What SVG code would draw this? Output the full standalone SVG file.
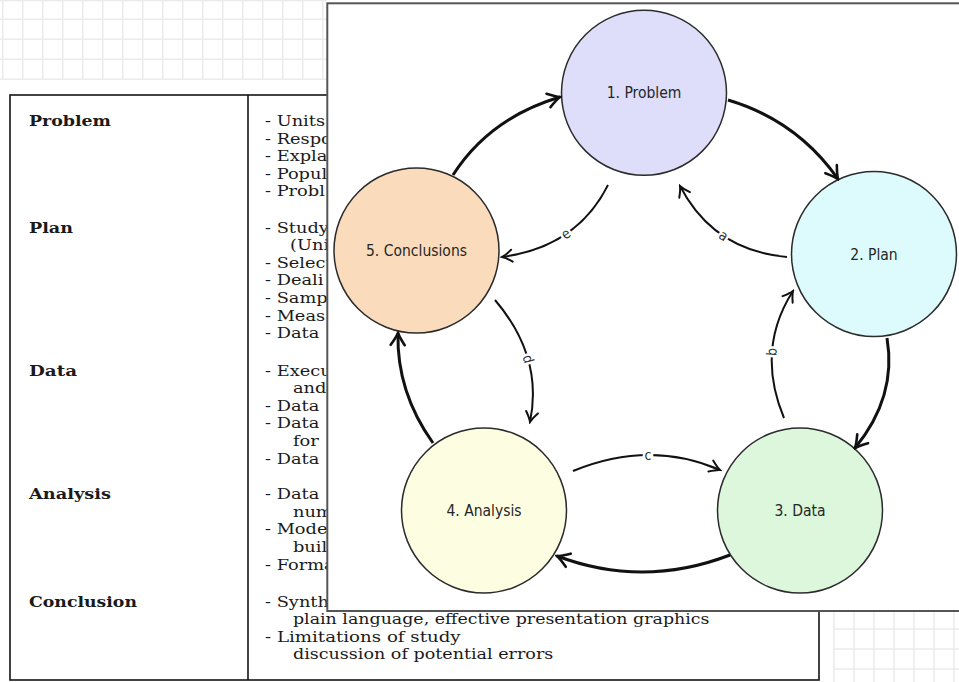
<svg xmlns="http://www.w3.org/2000/svg" width="959" height="682" viewBox="0 0 959 682">
  <style>
    .grid { stroke: #ebebeb; stroke-width: 1.5; fill: none; }
    .tbl { stroke: #151515; stroke-width: 1.6; fill: none; }
    .head { font-family: "DejaVu Serif", "Liberation Serif", serif; font-weight: bold; font-size: 14px; fill: #1a1a1a; }
    .body { font-family: "DejaVu Serif", "Liberation Serif", serif; font-size: 14px; fill: #1a1a1a; }
    .node circle { stroke: #2b2b2b; stroke-width: 1.5; }
    .node text { font-family: "DejaVu Sans Condensed", "DejaVu Sans", sans-serif; font-size: 15.5px; fill: #262626; text-anchor: middle; }
    .outer { stroke: #111; stroke-width: 3; fill: none; }
    .inner { stroke: #111; stroke-width: 2; fill: none; }
    .lbl { font-family: "DejaVu Sans Condensed", "DejaVu Sans", sans-serif; font-size: 14px; fill: #333; text-anchor: middle; stroke: #fff; stroke-width: 5; paint-order: stroke; }
  </style>
  <defs>
    <marker id="headBig" markerUnits="userSpaceOnUse" viewBox="-15 -10 17 20" markerWidth="17" markerHeight="20" refX="0" refY="0" orient="auto">
      <path d="M-12,-7 Q-4,-1.5 0,0 Q-4,1.5 -12,7" fill="none" stroke="#111" stroke-width="2.6" stroke-linecap="round"/>
    </marker>
    <marker id="headSmall" markerUnits="userSpaceOnUse" viewBox="-13 -9 15 18" markerWidth="15" markerHeight="18" refX="0" refY="0" orient="auto">
      <path d="M-10,-6 Q-3.5,-1.2 0,0 Q-3.5,1.2 -10,6" fill="none" stroke="#111" stroke-width="2" stroke-linecap="round"/>
    </marker>
  </defs>

  <rect width="959" height="682" fill="#fff"/>

  <!-- graph paper, top left -->
  <g class="grid">
    <path d="M0,0.5H327 M0,19.3H327 M0,39.3H327 M0,59.3H327 M0,79.3H327"/>
    <path d="M2.7,0V80 M22.7,0V80 M42.7,0V80 M62.7,0V80 M82.7,0V80 M102.7,0V80 M122.7,0V80 M142.7,0V80 M162.7,0V80 M182.7,0V80 M202.7,0V80 M222.7,0V80 M242.7,0V80 M262.7,0V80 M282.7,0V80 M302.7,0V80 M322.7,0V80"/>
  </g>
  <!-- graph paper, bottom right -->
  <g class="grid">
    <path d="M834,629H959 M834,649H959 M834,669H959"/>
    <path d="M834,612V682 M854,612V682 M874,612V682 M894,612V682 M914,612V682 M934,612V682 M954,612V682"/>
  </g>

  <!-- summary table -->
  <g id="table">
    <rect class="tbl" x="10" y="95" width="809" height="585"/>
    <line class="tbl" x1="248" y1="95" x2="248" y2="680"/>
    <text class="head" x="29" y="126" textLength="82" lengthAdjust="spacingAndGlyphs">Problem</text>
    <text class="head" x="29" y="232.7" textLength="44" lengthAdjust="spacingAndGlyphs">Plan</text>
    <text class="head" x="29" y="375.7" textLength="48" lengthAdjust="spacingAndGlyphs">Data</text>
    <text class="head" x="29" y="499.3" textLength="82" lengthAdjust="spacingAndGlyphs">Analysis</text>
    <text class="head" x="29" y="606.7" textLength="108" lengthAdjust="spacingAndGlyphs">Conclusion</text>
    <g class="body" transform="matrix(1.27,0,0,1,-71.55,0)">
      <text x="265" y="126">- Units</text>
      <text x="265" y="143.6">- Respo</text>
      <text x="265" y="161.2">- Expla</text>
      <text x="265" y="178.8">- Popul</text>
      <text x="265" y="196.4">- Probl</text>
      <text x="265" y="232.7">- Study</text>
      <text x="284.7" y="250.3">(Uni</text>
      <text x="265" y="267.9">- Select</text>
      <text x="265" y="285.5">- Deali</text>
      <text x="265" y="303.1">- Samp</text>
      <text x="265" y="320.7">- Meas</text>
      <text x="265" y="338.3">- Data</text>
      <text x="265" y="375.7">- Execu</text>
      <text x="287" y="393.3">and</text>
      <text x="265" y="410.9">- Data</text>
      <text x="265" y="428.5">- Data</text>
      <text x="287" y="446.1">for</text>
      <text x="265" y="463.7">- Data</text>
      <text x="265" y="499.3">- Data</text>
      <text x="287" y="516.9">num</text>
      <text x="265" y="534.5">- Mode</text>
      <text x="287" y="552.1">buil</text>
      <text x="265" y="569.7">- Forma</text>
      <text x="265" y="606.7">- Synth</text>
      <text x="287" y="624.3" textLength="328" lengthAdjust="spacingAndGlyphs">plain language, effective presentation graphics</text>
      <text x="265" y="641.9" textLength="154" lengthAdjust="spacingAndGlyphs">- Limitations of study</text>
      <text x="287" y="659.5" textLength="205" lengthAdjust="spacingAndGlyphs">discussion of potential errors</text>
    </g>
  </g>

  <!-- cycle panel -->
  <rect x="327.3" y="3.3" width="640" height="607.7" fill="#fff" stroke="#555" stroke-width="2"/>

  <g id="n1" class="node">
    <circle cx="644" cy="92.8" r="82.5" fill="#dedefa"/>
    <text x="644" y="98.3">1. Problem</text>
  </g>
  <g id="n2" class="node">
    <circle cx="874" cy="254" r="82.5" fill="#ddfbfc"/>
    <text x="874" y="259.5">2. Plan</text>
  </g>
  <g id="n3" class="node">
    <circle cx="800" cy="510.5" r="82.5" fill="#dcf7dc"/>
    <text x="800" y="516">3. Data</text>
  </g>
  <g id="n4" class="node">
    <circle cx="484" cy="510.5" r="82.5" fill="#fdfde2"/>
    <text x="484" y="516">4. Analysis</text>
  </g>
  <g id="n5" class="node">
    <circle cx="416.5" cy="250.5" r="82.5" fill="#fadbbb"/>
    <text x="416.5" y="256">5. Conclusions</text>
  </g>

  <g id="connectors">
    <!-- main cycle -->
    <path class="outer" d="M728,100 Q797,120.5 838,179" marker-end="url(#headBig)"/>
    <path class="outer" d="M887,338 Q897,397 855,448" marker-end="url(#headBig)"/>
    <path class="outer" d="M730,555 Q643,588.5 557,556" marker-end="url(#headBig)"/>
    <path class="outer" d="M433,443 Q396.5,392 398,333" marker-end="url(#headBig)"/>
    <path class="outer" d="M453,175 Q489.5,118 560,97" marker-end="url(#headBig)"/>
    <!-- feedback steps -->
    <path class="inner" d="M787,257 Q713.5,250.5 680,186" marker-end="url(#headSmall)"/>
    <path class="inner" d="M784,418 Q755.5,349.5 793,291" marker-end="url(#headSmall)"/>
    <path class="inner" d="M573,471 Q649.5,439.5 720,470" marker-end="url(#headSmall)"/>
    <path class="inner" d="M495,300 Q543.5,357 530,422" marker-end="url(#headSmall)"/>
    <path class="inner" d="M608,185 Q577,247 502,257" marker-end="url(#headSmall)"/>
    <text class="lbl" transform="translate(723.5,236) rotate(33.6)" y="4.5">a</text>
    <text class="lbl" transform="translate(772,352) rotate(-86)" y="4.5">b</text>
    <text class="lbl" transform="translate(648,455)" y="4.5">c</text>
    <text class="lbl" transform="translate(528,359) rotate(74)" y="4.5">d</text>
    <text class="lbl" transform="translate(566,234) rotate(-34.2)" y="4.5">e</text>
  </g>
</svg>
